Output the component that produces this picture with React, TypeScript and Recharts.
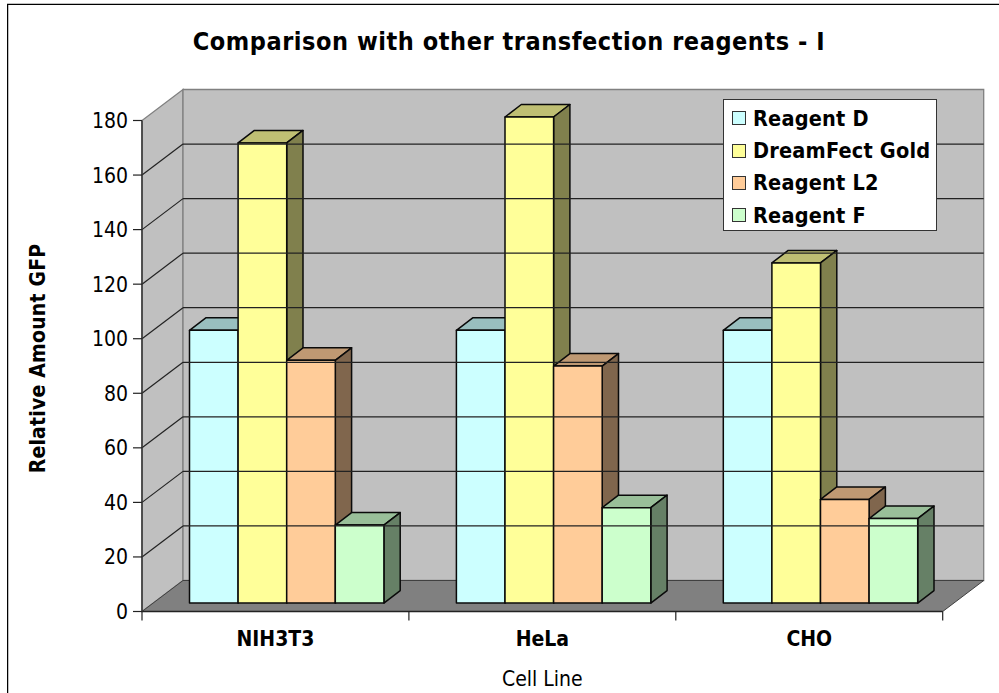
import React from 'react';
import { BarChart, Bar, XAxis, YAxis, Legend, ReferenceArea, ReferenceLine, Label } from 'recharts';

const categories = ['NIH3T3', 'HeLa', 'CHO'];
const reagentD = [100, 100, 100];
const dreamFectGold = [168.7, 178.2, 124.7];
const reagentL2 = [89, 86.9, 38];
const reagentF = [28.6, 35, 31];
const yTicks = [0, 20, 40, 60, 80, 100, 120, 140, 160, 180];
const gridTicks = [20, 40, 60, 80, 100, 120, 140, 160];
const data = categories.map((name, i) => ({
  name,
  d: reagentD[i],
  gold: dreamFectGold[i],
  l2: reagentL2[i],
  f: reagentF[i],
}));

const REG = "'DejaVu Sans Condensed','DejaVu Sans',sans-serif";
const WALL_DX = 41;
const WALL_DY = -31;
const BAR_SHIFT_X = 11.5;
const BAR_SHIFT_Y = -8.4;
const BAR_DX = 16.3;
const BAR_DY = -12.5;
const PITCH_EXTRA = 0.6;
const LINE = '#0a0a0a';

const shade = (hex: string, k: number) => {
  const n = parseInt(hex.slice(1), 16);
  const c = [(n >> 16) & 255, (n >> 8) & 255, n & 255].map((v) => Math.round(v * k));
  return `rgb(${c[0]},${c[1]},${c[2]})`;
};

const Bar3D = (p: any) => {
  const x = p.x + BAR_SHIFT_X;
  const y = p.y + BAR_SHIFT_Y;
  const w = p.width + PITCH_EXTRA;
  const h = p.height;
  const common = { stroke: LINE, strokeWidth: 1.5, strokeLinejoin: 'round' as const };
  return (
    <g>
      <polygon
        points={`${x},${y} ${x + BAR_DX},${y + BAR_DY} ${x + w + BAR_DX},${y + BAR_DY} ${x + w},${y}`}
        fill={shade(p.fill, 0.75)}
        {...common}
      />
      <polygon
        points={`${x + w},${y} ${x + w + BAR_DX},${y + BAR_DY} ${x + w + BAR_DX},${y + h + BAR_DY} ${x + w},${y + h}`}
        fill={shade(p.fill, 0.5)}
        {...common}
      />
      <rect x={x} y={y} width={w} height={h} fill={p.fill} {...common} />
    </g>
  );
};

const Walls = (p: any) => {
  const { x, y, width: w, height: h } = p;
  const b = y + h;
  const r = x + w;
  return (
    <g>
      <polygon
        points={`${x},${b} ${x + WALL_DX},${b + WALL_DY} ${x + WALL_DX},${y + WALL_DY} ${x},${y}`}
        fill="#c0c0c0"
        stroke="#808080"
        strokeWidth={1.3}
      />
      <polygon
        points={`${x + WALL_DX},${b + WALL_DY} ${r + WALL_DX},${b + WALL_DY} ${r + WALL_DX},${y + WALL_DY} ${x + WALL_DX},${y + WALL_DY}`}
        fill="#c0c0c0"
        stroke="#808080"
        strokeWidth={1.3}
      />
      <polygon
        points={`${x},${b} ${x + WALL_DX},${b + WALL_DY} ${r + WALL_DX},${b + WALL_DY} ${r},${b}`}
        fill="#808080"
        stroke="#404040"
        strokeWidth={1}
      />
    </g>
  );
};

const GridLine = (p: any) => {
  const x1 = Number(p.x1);
  const x2 = Number(p.x2);
  const y1 = Number(p.y1);
  return (
    <g stroke="#222" strokeWidth={1.2}>
      <line x1={x1} y1={y1} x2={x1 + WALL_DX} y2={y1 + WALL_DY} />
      <line x1={x1 + WALL_DX} y1={y1 + WALL_DY} x2={x2 + WALL_DX} y2={y1 + WALL_DY} />
    </g>
  );
};

const CategoryTick = (p: any) => {
  const { x, y, payload, index, width, visibleTicksCount } = p;
  const band = width / (visibleTicksCount || categories.length);
  return (
    <g>
      {index === 0 && <line x1={x - band / 2} x2={x - band / 2} y1={y} y2={y + 9} stroke="#222" strokeWidth={1.2} />}
      <line x1={x + band / 2} x2={x + band / 2} y1={y} y2={y + 9} stroke="#222" strokeWidth={1.2} />
      <text x={x} y={y + 34.5} textAnchor="middle" fontFamily={REG} fontWeight="bold" fontSize={21} fill="#000">
        {payload.value}
      </text>
    </g>
  );
};

const LegendBox = (p: any) => (
  <div
    style={{
      boxSizing: 'border-box',
      width: 214,
      height: 132,
      background: '#fff',
      border: '1.3px solid #333',
      padding: '2px 0 0 8px',
      fontFamily: REG,
      fontWeight: 'bold',
      fontSize: 21.5,
      letterSpacing: 0.2,
      color: '#000',
    }}
  >
    {(p.payload || []).map((e: any) => (
      <div key={e.value} style={{ display: 'flex', alignItems: 'center', height: 32.4, whiteSpace: 'nowrap' }}>
        <span
          style={{
            display: 'inline-block',
            boxSizing: 'border-box',
            width: 14,
            height: 14,
            background: e.color,
            border: '1.2px solid #333',
            marginRight: 7,
          }}
        />
        {e.value}
      </div>
    ))}
  </div>
);

export default function App() {
  return (
    <div style={{ position: 'absolute', left: 0, top: 0, width: 999, height: 693, background: '#fff', overflow: 'hidden' }}>
      <div style={{ position: 'absolute', left: 7, top: 3, width: 992, height: 1, background: '#c0c0c0' }} />
      <div style={{ position: 'absolute', left: 7, top: 4, width: 992, height: 1, background: '#000' }} />
      <div style={{ position: 'absolute', left: 7, top: 4, width: 1, height: 689, background: '#000' }} />
      <div style={{ position: 'absolute', left: 8, top: 5, width: 1, height: 688, background: '#c0c0c0' }} />
      <div style={{ position: 'absolute', left: 0, top: 0 }}>
        <BarChart
          width={999}
          height={693}
          data={data}
          margin={{ top: 120.5, right: 56.3, bottom: 0, left: 0 }}
          barCategoryGap={36}
          barGap={PITCH_EXTRA}
          style={{ background: 'transparent' }}
        >
          <ReferenceArea y1={0} y2={180} shape={Walls} ifOverflow="visible" isFront={false} />
          {gridTicks.map((v) => (
            <ReferenceLine key={v} y={v} shape={GridLine} ifOverflow="visible" isFront={false} />
          ))}
          <XAxis
            dataKey="name"
            height={81.5}
            tickLine={false}
            tickSize={0}
            tickMargin={0}
            axisLine={{ stroke: '#222', strokeWidth: 1.3 }}
            tick={CategoryTick as any}
            interval={0}
          >
            <Label
              content={(p: any) => (
                <text
                  x={p.viewBox.x + p.viewBox.width / 2}
                  y={686}
                  textAnchor="middle"
                  fontFamily={REG}
                  fontSize={21}
                  fill="#000"
                >
                  Cell Line
                </text>
              )}
            />
          </XAxis>
          <YAxis
            width={142}
            domain={[0, 180]}
            ticks={yTicks}
            interval={0}
            tickSize={9}
            tickMargin={5}
            tickLine={{ stroke: '#222', strokeWidth: 1.2 }}
            axisLine={{ stroke: '#333', strokeWidth: 1.5 }}
            tick={{ fontFamily: REG, fontSize: 21, fill: '#000' }}
          >
            <Label
              content={() => (
                <text
                  transform="rotate(-90 45 358.5)"
                  x={45}
                  y={358.5}
                  textAnchor="middle"
                  fontFamily={REG}
                  fontWeight="bold"
                  fontSize={21}
                  letterSpacing={0.2}
                  fill="#000"
                >
                  Relative Amount GFP
                </text>
              )}
            />
          </YAxis>
          <Legend
            layout="vertical"
            align="center"
            verticalAlign="middle"
            itemSorter={null as any}
            content={LegendBox as any}
            wrapperStyle={{ position: 'absolute', left: 723, top: 99, width: 214, height: 132 }}
          />
          <Bar dataKey="d" name="Reagent D" fill="#ccffff" shape={Bar3D} isAnimationActive={false} />
          <Bar dataKey="gold" name="DreamFect Gold" fill="#ffff99" shape={Bar3D} isAnimationActive={false} />
          <Bar dataKey="l2" name="Reagent L2" fill="#ffcc99" shape={Bar3D} isAnimationActive={false} />
          <Bar dataKey="f" name="Reagent F" fill="#ccffcc" shape={Bar3D} isAnimationActive={false} />
          <text
            x={509}
            y={50}
            textAnchor="middle"
            fontFamily={REG}
            fontWeight="bold"
            fontSize={25}
            letterSpacing={0.55}
            fill="#000"
          >
            Comparison with other transfection reagents - I
          </text>
        </BarChart>
      </div>
    </div>
  );
}
